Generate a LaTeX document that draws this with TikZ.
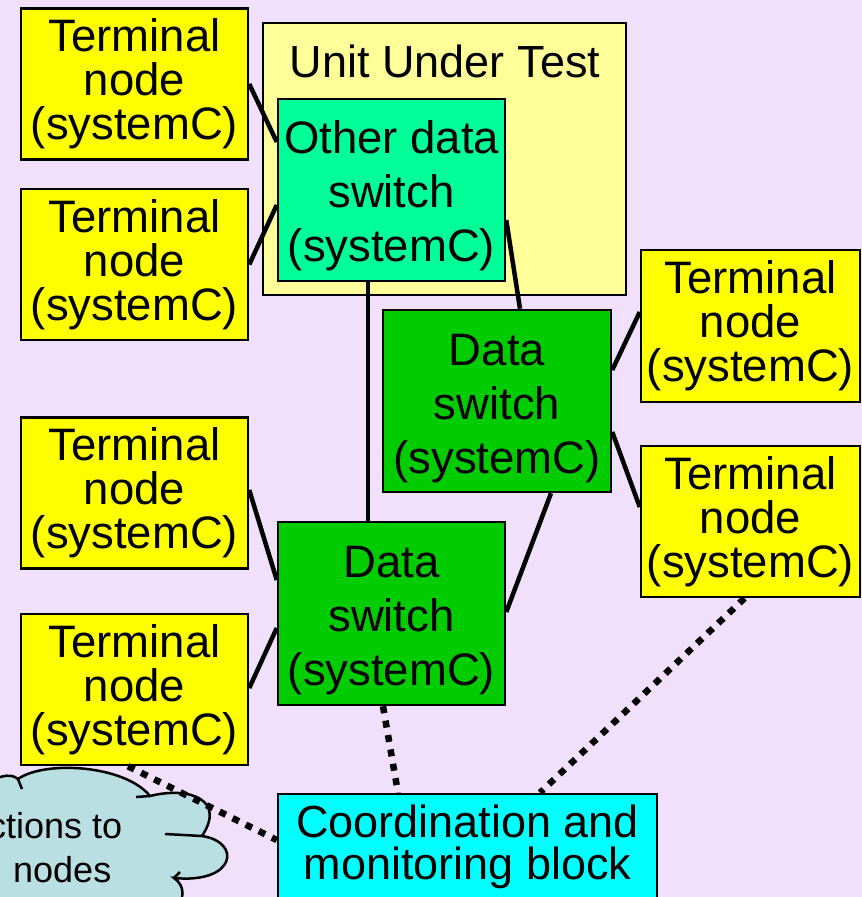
\documentclass[tikz,border=0pt]{standalone}
\usepackage{fontspec}
\setmainfont{Liberation Sans}
% a zero-width strut that sets the height of a first text line
\newcommand\firstline[1]{\rule{0pt}{#1}}
\begin{document}
\begin{tikzpicture}[x=1pt,y=-1pt,
  box/.style={draw=black,line width=2.5pt,inner sep=0pt,align=center,text=black},
  termbox/.style={box,fill=termyellow,minimum width=227pt,minimum height=151pt,
    font=\fontsize{45.5pt}{44pt}\selectfont},
  switchbox/.style={box,fill=switchgreen,minimum width=227pt,minimum height=182pt,
    font=\fontsize{45.5pt}{54pt}\selectfont},
  link/.style={line width=4.5pt,line cap=butt},
  dots/.style={line width=6.5pt,dash pattern=on 7pt off 7.6pt},
]
\definecolor{bgviolet}{RGB}{240,224,252}
\definecolor{termyellow}{RGB}{255,255,0}
\definecolor{uutyellow}{RGB}{255,255,153}
\definecolor{othergreen}{RGB}{0,255,153}
\definecolor{switchgreen}{RGB}{0,204,0}
\definecolor{coordcyan}{RGB}{0,255,255}
\definecolor{cloudblue}{RGB}{185,223,227}

% page and background
\useasboundingbox (0,0) rectangle (862,897);
\fill[bgviolet] (0,0) rectangle (862,897);

% cloud at the lower left
\begin{scope}
\clip (0,0) rectangle (862,897);
\filldraw[fill=cloudblue,draw=black,line width=2.5pt]
  (-20,790) .. controls (-5,776) and (10,772) .. (18,779)
  .. controls (45,760) and (125,765) .. (150,796)
  .. controls (190,786) and (226,800) .. (202,836)
  .. controls (242,842) and (236,884) .. (174,878)
  .. controls (186,886) and (184,900) .. (176,910)
  -- (-20,910) -- cycle;
\draw[line width=2.5pt] (18,779) -- (22,789);
\draw[line width=2.5pt] (150,796) -- (136,797);
\draw[line width=2.5pt] (202,836) -- (165,834);
\draw[line width=2.5pt] (174,878) -- (180,872);
\end{scope}
\node[anchor=base west,inner sep=0pt,font=\fontsize{36pt}{36pt}\selectfont] (cloudA) at (-12,838) {ctions to};
\node[anchor=base west,inner sep=0pt,font=\fontsize{36pt}{36pt}\selectfont] (cloudB) at (13,882) {nodes};

% unit under test
\node[box,fill=uutyellow,minimum width=363pt,minimum height=272pt] (uut) at (444.5,159) {};
\node[anchor=base,inner sep=0pt,font=\fontsize{45pt}{45pt}\selectfont] (uuttext) at (445,77) {Unit Under Test};

% terminal nodes
\node[termbox] (t1) at (134.5,84) {Terminal\\node\\(systemC)};
\node[termbox] (t2) at (134.5,264.5) {Terminal\\node\\(systemC)};
\node[termbox] (t3) at (134.5,493) {Terminal\\node\\(systemC)};
\node[termbox] (t4) at (134.5,689.5) {Terminal\\node\\(systemC)};
\node[termbox,minimum width=219pt,minimum height=152pt] (t5) at (750.5,326) {Terminal\\node\\(systemC)};
\node[termbox,minimum width=219pt] (t6) at (750.5,521.5) {Terminal\\node\\(systemC)};

% switches
\node[switchbox,fill=othergreen] (other) at (391.5,190) {\firstline{44pt}Other data\\switch\\(systemC)};
\node[switchbox,minimum width=228pt] (ds1) at (497,401) {\firstline{47pt}Data\\switch\\(systemC)};
\node[switchbox,minimum height=183pt] (ds2) at (391.5,613.5) {\firstline{46pt}Data\\switch\\(systemC)};

% coordination and monitoring
\node[box,fill=coordcyan,minimum width=379pt,minimum height=106pt,
  font=\fontsize{45pt}{42pt}\selectfont] (coord) at (467.5,847) {Coordination and\\monitoring block};

% data links
\draw[link] (t1.east) -- ([yshift=48pt]other.west);
\draw[link] (t2.east) -- ([yshift=-15pt]other.west);
\draw[link] ([xshift=-23.5pt]other.south) -- ([xshift=-23.5pt]ds2.north);
\draw[link] ([yshift=-30pt]other.east) -- ([xshift=23pt]ds1.north);
\draw[link] ([yshift=31pt]ds1.east) -- ([yshift=14pt]t5.west);
\draw[link] ([yshift=-31pt]ds1.east) -- ([yshift=14.5pt]t6.west);
\draw[link] ([xshift=54pt]ds1.south) -- ([yshift=1.5pt]ds2.east);
\draw[link] ([yshift=3pt]t3.east) -- ([yshift=33.5pt]ds2.west);
\draw[link] ([yshift=1.5pt]t4.east) -- ([yshift=-14.5pt]ds2.west);

% monitoring links
\draw[dots] ([xshift=-8.5pt]ds2.south) -- ([xshift=-69.5pt]coord.north);
\draw[dots] ([xshift=-6pt]t6.south) -- ([xshift=72.5pt]coord.north);
\draw[dots] ([xshift=-6.5pt]t4.south) -- ([yshift=7pt]coord.west);
\end{tikzpicture}
\end{document}
